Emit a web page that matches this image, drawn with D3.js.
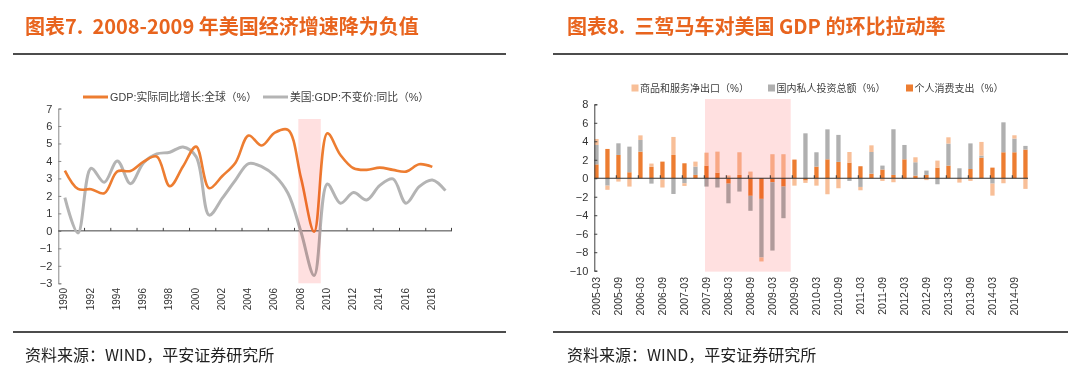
<!DOCTYPE html>
<html>
<head>
<meta charset="utf-8">
<script src="https://cdn.jsdelivr.net/npm/d3@7"></script>
<style>
  body { margin: 0; background: #fff; }
  svg text { font-family: "Liberation Sans", Arial, "Noto Sans CJK SC", sans-serif; }
  .title { font-family: "Noto Sans CJK SC", sans-serif; font-weight: bold; fill: #E8641E; white-space: pre; }
  .source { font-family: "Noto Sans CJK SC", sans-serif; fill: #222; }
</style>
</head>
<body>
<div id="chart"></div>
<script>
// ---- chart 7 data: yearly growth (%)
var years = ["1990","1991","1992","1993","1994","1995","1996","1997","1998","1999",
  "2000","2001","2002","2003","2004","2005","2006","2007","2008","2009",
  "2010","2011","2012","2013","2014","2015","2016","2017","2018","2019"];
var worldGdp = [3.45, 2.4, 2.38, 2.15, 3.4, 3.43, 3.96, 4.25, 2.55, 3.68,
  4.82, 2.44, 3.14, 3.9, 5.45, 4.88, 5.62, 5.78, 3.0, -0.05,
  5.58, 4.34, 3.58, 3.49, 3.62, 3.49, 3.39, 3.81, 3.66];
var usGdp = [1.9, -0.12, 3.58, 2.78, 4.0, 2.7, 3.9, 4.4, 4.5, 4.8,
  4.25, 0.9, 1.87, 2.9, 3.85, 3.68, 3.15, 2.15, -0.08, -2.55,
  2.68, 1.58, 2.19, 1.77, 2.6, 2.97, 1.58, 2.53, 2.91, 2.3];
var leftTicks = [-3, -2, -1, 0, 1, 2, 3, 4, 5, 6, 7];
var leftLabelYears = ["1990","1992","1994","1996","1998","2000","2002","2004","2006","2008","2010","2012","2014","2016","2018"];
var leftShade = ["2008", "2009"];

// ---- chart 8 data: quarterly contributions (pct points)
var quarters = ["2005-03","2005-06","2005-09","2005-12","2006-03","2006-06","2006-09","2006-12",
  "2007-03","2007-06","2007-09","2007-12","2008-03","2008-06","2008-09","2008-12",
  "2009-03","2009-06","2009-09","2009-12","2010-03","2010-06","2010-09","2010-12",
  "2011-03","2011-06","2011-09","2011-12","2012-03","2012-06","2012-09","2012-12",
  "2013-03","2013-06","2013-09","2013-12","2014-03","2014-06","2014-09","2014-12"];
var consumption = [1.5, 3.17, 2.52, 0.65, 2.88, 1.23, 1.8, 2.52, 1.62, 0.36, 1.37, 0.61, -0.58, 0.36, -1.9, -2.23,
  -0.43, -0.9, 2.02, -0.25, 1.26, 2.05, 1.77, 1.69, 1.3, 0.5, 0.94, 0.36, 2.05, 0.29, 0.36, 1.15,
  1.37, 0, 1.0, 2.23, 1.15, 2.81, 2.81, 3.1];
var investment = [2.1, -0.8, 1.26, 2.77, 1.26, -0.58, -0.15, -1.7, -0.54, 0.9, -0.9, -1.0, -2.13, -1.44, -1.62, -6.34,
  -7.39, -3.42, 0, 4.86, 1.55, 3.24, 2.92, -0.29, -0.94, 2.34, 0.43, 4.94, 1.55, 1.44, 0.47, -0.65,
  2.38, 1.08, 2.77, 0.22, -0.58, 3.24, 1.48, 0.4];
var netExports = [0.65, -0.45, -0.36, -0.9, 0.5, 0.36, -0.85, 1.95, -0.29, 0.54, 1.4, 2.27, 0.3, 2.45, 0.72, -0.43,
  2.6, 2.6, -0.8, -0.25, -0.8, -1.73, -1.08, 1.15, -0.36, 0.72, -0.29, -0.43, -0.1, 0.54, -0.2, 0.76,
  0.68, -0.47, -0.29, 1.48, -1.3, -0.54, 0.36, -1.15];
var rightTicks = [-10, -8, -6, -4, -2, 0, 2, 4, 6, 8];
var rightShade = ["2007-09", "2009-09"];

var svg = d3.select("#chart").append("svg")
  .attr("width", 1080)
  .attr("height", 368);

// ---- frames: titles, rules, sources
var frames = [
  {x0: 13, x1: 506, tx: 25, title: "图表7.  2008-2009 年美国经济增速降为负值"},
  {x0: 553, x1: 1068, tx: 567, title: "图表8.  三驾马车对美国 GDP 的环比拉动率"}
];
frames.forEach(function (f) {
  svg.append("text").attr("class", "title")
    .attr("x", f.tx).attr("y", 34)
    .style("font-size", "20px")
    .text(f.title);
  svg.append("line").attr("x1", f.x0).attr("x2", f.x1).attr("y1", 54).attr("y2", 54)
    .attr("stroke", "#111").attr("stroke-width", 1.5);
  svg.append("line").attr("x1", f.x0).attr("x2", f.x1).attr("y1", 332).attr("y2", 332)
    .attr("stroke", "#111").attr("stroke-width", 1.5);
  svg.append("text").attr("class", "source")
    .attr("x", f.tx).attr("y", 361)
    .style("font-size", "16px")
    .text("资料来源：WIND，平安证券研究所");
});

// ================= chart 7 =================
var lx = d3.scaleBand().domain(years).range([58.3, 452]);
var ly = d3.scaleLinear().domain([-3, 7]).range([283.3, 108.5]);
var bw = lx.bandwidth();

var left = svg.append("g");

left.append("g")
  .attr("transform", "translate(58.3,0)")
  .call(d3.axisLeft(ly).tickValues(leftTicks).tickSizeInner(-3).tickSizeOuter(-3).tickPadding(6))
  .call(function (g) {
    g.select(".domain").attr("stroke", "#888");
    g.selectAll(".tick line").attr("stroke", "#888");
    g.selectAll("text").attr("fill", "#333").style("font-size", "11px").style("font-family", "Liberation Sans");
  });

// zero axis with ticks every two years
left.append("line")
  .attr("x1", 58.3).attr("x2", 452).attr("y1", ly(0)).attr("y2", ly(0))
  .attr("stroke", "#404040");
left.selectAll(".xtick").data(leftLabelYears.slice(1))
  .enter().append("line")
  .attr("x1", d => lx(d)).attr("x2", d => lx(d))
  .attr("y1", ly(0)).attr("y2", ly(0) - 3)
  .attr("stroke", "#404040");
left.append("line")
  .attr("x1", 451.5).attr("x2", 451.5).attr("y1", ly(0)).attr("y2", ly(0) - 3)
  .attr("stroke", "#404040");

left.selectAll(".xlab").data(leftLabelYears)
  .enter().append("text")
  .attr("transform", d => `translate(${lx(d) + bw / 2 - 1},288) rotate(-90)`)
  .attr("text-anchor", "end")
  .attr("dy", "0.35em")
  .attr("fill", "#333")
  .style("font-size", "10px")
  .text(d => d);

var line = d3.line()
  .x((d, i) => lx(years[i]) + bw / 2)
  .y(d => ly(d))
  .curve(d3.curveCatmullRom.alpha(0.5));

left.append("path").datum(usGdp)
  .attr("d", line)
  .attr("fill", "none")
  .attr("stroke", "#B4B4B4")
  .attr("stroke-width", 3);

left.append("path").datum(worldGdp)
  .attr("d", line)
  .attr("fill", "none")
  .attr("stroke", "#ED7D31")
  .attr("stroke-width", 2.6);

left.append("rect")
  .attr("x", lx(leftShade[0]) + 3.8)
  .attr("width", lx(leftShade[1]) + bw - lx(leftShade[0]) - 3.8)
  .attr("y", ly(6.4))
  .attr("height", ly(-3) - ly(6.4))
  .attr("fill", "#FFE0E0")
  .style("mix-blend-mode", "multiply");

// legend
var leftLegend = [
  {label: "GDP:实际同比增长:全球（%）", color: "#ED7D31", x: 83},
  {label: "美国:GDP:不变价:同比（%）", color: "#B4B4B4", x: 263}
];
leftLegend.forEach(function (d) {
  left.append("line")
    .attr("x1", d.x).attr("x2", d.x + 25).attr("y1", 97).attr("y2", 97)
    .attr("stroke", d.color).attr("stroke-width", 3);
  left.append("text")
    .attr("x", d.x + 27).attr("y", 97).attr("dy", "0.35em")
    .attr("fill", "#404040")
    .style("font-size", "10.8px")
    .text(d.label);
});

// ================= chart 8 =================
var rx = d3.scalePoint().domain(quarters).range([594.3, 1023.3]);
var ry = d3.scaleLinear().domain([-10, 8]).range([270.7, 104.3]);
var barW = 4.3;

var right = svg.append("g");

var rows = quarters.map(function (q, i) {
  return {q: q, consumption: consumption[i], investment: investment[i], netExports: netExports[i]};
});
var keys = ["consumption", "investment", "netExports"];
var colors = {consumption: "#ED7D31", investment: "#B0B0B0", netExports: "#F8BF98"};
var stacked = d3.stack().keys(keys).offset(d3.stackOffsetDiverging)(rows);

right.selectAll(".series").data(stacked)
  .enter().append("g")
  .attr("fill", d => colors[d.key])
  .selectAll("rect").data(d => d)
  .enter().append("rect")
  .attr("x", d => rx(d.data.q))
  .attr("width", barW)
  .attr("y", d => ry(Math.max(d[0], d[1])))
  .attr("height", d => Math.abs(ry(d[0]) - ry(d[1])));

right.append("g")
  .attr("transform", "translate(594.3,0)")
  .call(d3.axisLeft(ry).tickValues(rightTicks).tickSizeInner(-3).tickSizeOuter(-3).tickPadding(6))
  .call(function (g) {
    g.select(".domain").attr("stroke", "#404040");
    g.selectAll(".tick line").attr("stroke", "#404040");
    g.selectAll("text").attr("fill", "#333").style("font-size", "11px").style("font-family", "Liberation Sans");
  });

right.append("line")
  .attr("x1", 594.3).attr("x2", 1028).attr("y1", ry(0)).attr("y2", ry(0))
  .attr("stroke", "#333");

var labelQuarters = quarters.filter((q, i) => i % 2 === 0);
right.selectAll(".xtick").data(labelQuarters.slice(1))
  .enter().append("line")
  .attr("x1", d => rx(d)).attr("x2", d => rx(d))
  .attr("y1", ry(0)).attr("y2", ry(0) - 3)
  .attr("stroke", "#333");

right.selectAll(".xlab").data(labelQuarters)
  .enter().append("text")
  .attr("transform", d => `translate(${rx(d) + barW / 2},277) rotate(-90)`)
  .attr("text-anchor", "end")
  .attr("dy", "0.35em")
  .attr("fill", "#333")
  .style("font-size", "10.5px")
  .text(d => d);

right.append("rect")
  .attr("x", rx(rightShade[0]) + 0.7)
  .attr("width", rx(rightShade[1]) - 1.6 - rx(rightShade[0]) - 0.7)
  .attr("y", ry(8.57))
  .attr("height", ry(-10.1) - ry(8.57))
  .attr("fill", "#FFE0E0")
  .style("mix-blend-mode", "multiply");

var rightLegend = [
  {label: "商品和服务净出口（%）", key: "netExports", x: 631.5},
  {label: "国内私人投资总额（%）", key: "investment", x: 768},
  {label: "个人消费支出（%）", key: "consumption", x: 906}
];
rightLegend.forEach(function (d) {
  right.append("rect")
    .attr("x", d.x).attr("y", 84.5).attr("width", 7).attr("height", 7)
    .attr("fill", colors[d.key]);
  right.append("text")
    .attr("x", d.x + 8.5).attr("y", 88).attr("dy", "0.35em")
    .attr("fill", "#404040")
    .style("font-size", "10px")
    .text(d.label);
});
</script>
</body>
</html>
